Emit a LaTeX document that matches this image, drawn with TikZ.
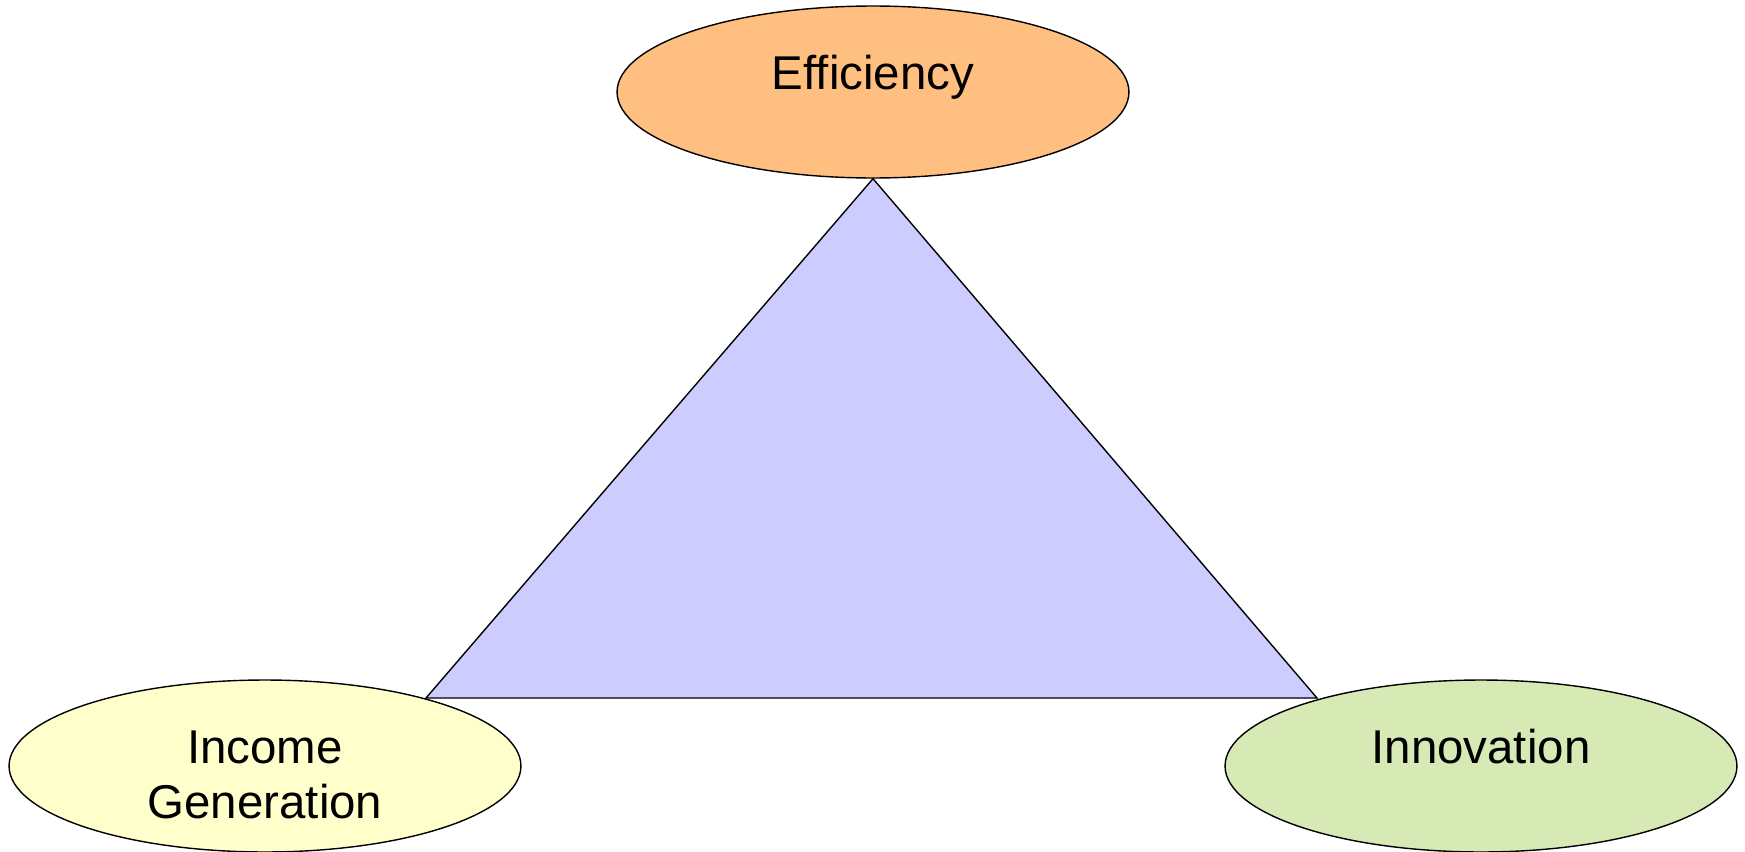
\documentclass[tikz,border=0pt]{standalone}
\usepackage{fontspec}
\setmainfont{Liberation Sans}
\usetikzlibrary{shapes.geometric,backgrounds}
\definecolor{effcolor}{RGB}{255,191,128}
\definecolor{inccolor}{RGB}{255,255,204}
\definecolor{inncolor}{RGB}{215,233,180}
\definecolor{tricolor}{RGB}{204,204,255}
\begin{document}
\begin{tikzpicture}[x=0.02cm,y=-0.02cm]
      \tikzset{goal/.style={draw, ellipse, line width=0.8pt, inner sep=0pt, minimum width=10.24cm, minimum height=3.44cm, font=\fontsize{27}{31.6}\selectfont, align=center}}
      \useasboundingbox (0,0) rectangle (1745,852);
%% Goals
      \node[goal, fill=effcolor, text height=19.7pt, text depth=22.7pt] (eff) at (873,92) {Efficiency};
      \node[goal, fill=inccolor, text height=59.8pt, text depth=0pt] (inc) at (265,766) {Income\\Generation};
      \node[goal, fill=inncolor, text height=19.7pt, text depth=22.7pt] (inn) at (1481,766) {Innovation};
%% Triangle
      \coordinate (left) at (426,698);
      \coordinate (right) at (1317,698);
      \begin{pgfonlayer}{background}
        \draw[line width=0.8pt, fill=tricolor] (eff.south) -- (left) -- (right) -- cycle;
      \end{pgfonlayer}
\end{tikzpicture}
\end{document}
